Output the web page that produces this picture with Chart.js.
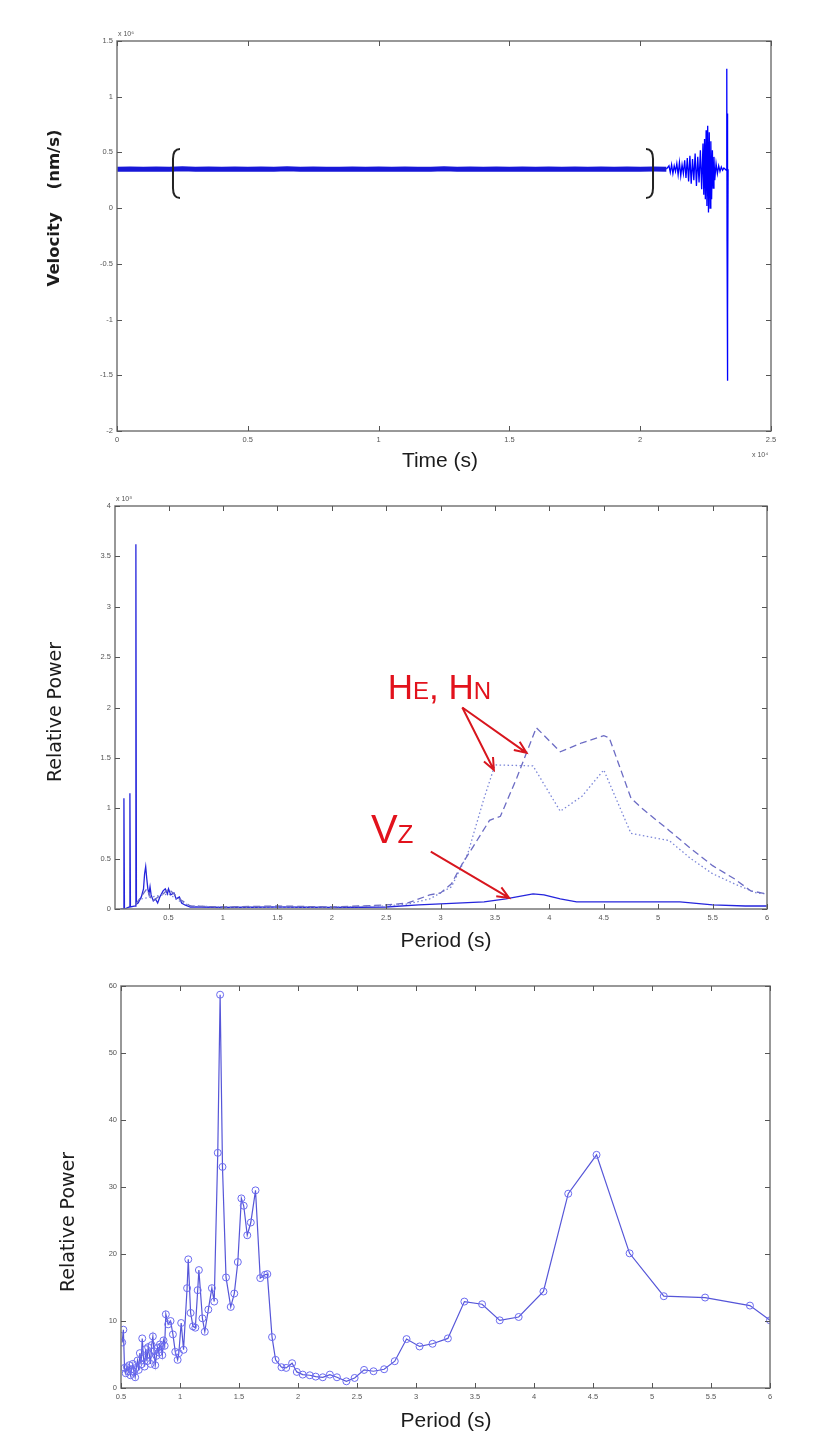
<!DOCTYPE html>
<html>
<head>
<meta charset="utf-8">
<script src="https://cdn.jsdelivr.net/npm/chart.js@4.4.1/dist/chart.umd.min.js"></script>
<style>
html, body { margin: 0; padding: 0; background: #fff; }
body { width: 838px; height: 1435px; position: relative; overflow: hidden; }
canvas { position: absolute; left: 0; }
</style>
</head>
<body>
<canvas id="velocityChart" width="838" height="480" style="top:0px"></canvas>
<canvas id="spectrumChart" width="838" height="480" style="top:480px"></canvas>
<canvas id="hvChart" width="838" height="475" style="top:960px"></canvas>
<script>
// ---- top: velocity record (time x 10^4 s, velocity x 10^6 nm/s)
const quietTime = [0, 0.05, 0.1, 0.15, 0.2, 0.25, 0.3, 0.35, 0.4, 0.45, 0.5, 0.55, 0.6, 0.65, 0.7, 0.75, 0.8, 0.85, 0.9, 0.95,
    1, 1.05, 1.1, 1.15, 1.2, 1.25, 1.3, 1.35, 1.4, 1.45, 1.5, 1.55, 1.6, 1.65, 1.7, 1.75, 1.8, 1.85, 1.9, 1.95, 2, 2.05, 2.1]
const quietVel = [0.350, 0.352, 0.348, 0.351, 0.349, 0.353, 0.348, 0.351, 0.350, 0.352, 0.349, 0.351, 0.349, 0.353, 0.348,
    0.351, 0.350, 0.349, 0.352, 0.348, 0.351, 0.350, 0.352, 0.348, 0.350, 0.353, 0.349, 0.351, 0.349, 0.352, 0.348, 0.351,
    0.350, 0.352, 0.349, 0.351, 0.349, 0.352, 0.348, 0.352, 0.350, 0.351, 0.350]
const eventTime = [2.10, 2.11, 2.115, 2.12, 2.125, 2.13, 2.135, 2.14, 2.145, 2.15, 2.155, 2.16, 2.165, 2.17, 2.175, 2.18,
    2.185, 2.19, 2.195, 2.20, 2.205, 2.21, 2.215, 2.22, 2.225, 2.23, 2.235, 2.24, 2.243, 2.246, 2.249, 2.252, 2.255, 2.258,
    2.261, 2.264, 2.267, 2.27, 2.273, 2.276, 2.279, 2.282, 2.285, 2.29, 2.295, 2.30, 2.305, 2.31, 2.315, 2.32, 2.325, 2.329,
    2.331, 2.332, 2.333, 2.334, 2.335, 2.336]
const eventVel = [0.35, 0.38, 0.32, 0.39, 0.31, 0.38, 0.33, 0.40, 0.30, 0.41, 0.29, 0.39, 0.31, 0.43, 0.27, 0.45, 0.24, 0.47,
    0.22, 0.44, 0.25, 0.49, 0.20, 0.46, 0.23, 0.52, 0.17, 0.58, 0.12, 0.62, 0.08, 0.70, 0.02, 0.74, -0.04, 0.68, 0.00, 0.60,
    0.08, 0.52, 0.18, 0.46, 0.25, 0.40, 0.31, 0.38, 0.33, 0.37, 0.34, 0.36, 0.35, 0.34, 1.25, -0.30, 0.85, -1.55, -0.95, 0.35]
const timeTicks = [0, 0.5, 1, 1.5, 2, 2.5]
const velTicks = [-2, -1.5, -1, -0.5, 0, 0.5, 1, 1.5]
const windowTimes = [0.214, 2.049]      // brackets around the analysed window
const windowVel = [0.09, 0.53]

// ---- middle: spectra of the three components (power x 10^8)
const vzPeriod = [0.06, 0.085, 0.09, 0.095, 0.14, 0.145, 0.15, 0.195, 0.2, 0.205, 0.22, 0.25, 0.27, 0.28, 0.29, 0.3, 0.31,
    0.32, 0.33, 0.34, 0.36, 0.38, 0.4, 0.42, 0.45, 0.47, 0.49, 0.5, 0.52, 0.55, 0.57, 0.6, 0.62, 0.65, 0.7, 0.8, 1.0, 1.5,
    2.0, 2.5, 2.8, 3.0, 3.2, 3.4, 3.6, 3.75, 3.85, 3.95, 4.1, 4.25, 4.5, 5.0, 5.2, 5.5, 5.8, 6.0]
const vzPower = [0.0, 0.0, 1.1, 0.0, 0.02, 1.15, 0.02, 0.03, 3.62, 0.05, 0.06, 0.12, 0.2, 0.35, 0.42, 0.3, 0.2, 0.15, 0.22,
    0.14, 0.08, 0.1, 0.06, 0.12, 0.18, 0.2, 0.15, 0.2, 0.14, 0.16, 0.1, 0.12, 0.06, 0.04, 0.02, 0.02, 0.015, 0.02, 0.015,
    0.02, 0.04, 0.05, 0.06, 0.07, 0.1, 0.13, 0.15, 0.14, 0.1, 0.07, 0.07, 0.07, 0.07, 0.04, 0.03, 0.03]
const hePeriod = [0.2, 0.3, 0.35, 0.45, 0.5, 0.6, 0.7, 1.0, 1.5, 2.0, 2.5, 2.7, 2.9, 3.0, 3.1, 3.2, 3.3, 3.45, 3.55, 3.7,
    3.88, 4.1, 4.3, 4.5, 4.55, 4.75, 4.85, 5.1, 5.3, 5.5, 5.7, 5.85, 6.0]
const hePower = [0.05, 0.2, 0.08, 0.15, 0.2, 0.1, 0.03, 0.02, 0.03, 0.02, 0.04, 0.06, 0.14, 0.16, 0.25, 0.45, 0.62, 0.88,
    0.92, 1.3, 1.8, 1.56, 1.65, 1.72, 1.7, 1.1, 1.0, 0.78, 0.6, 0.43, 0.3, 0.18, 0.15]
const hnPeriod = [0.25, 0.5, 0.6, 0.7, 1.0, 2.0, 2.5, 2.7, 2.9, 3.1, 3.25, 3.4, 3.5, 3.85, 4.1, 4.3, 4.5, 4.75, 5.1, 5.3,
    5.5, 5.7, 5.9, 6.0]
const hnPower = [0.1, 0.15, 0.08, 0.03, 0.02, 0.02, 0.03, 0.05, 0.1, 0.22, 0.55, 1.1, 1.43, 1.42, 0.97, 1.12, 1.38, 0.75,
    0.68, 0.5, 0.35, 0.25, 0.16, 0.15]
const periodTicks = [0.5, 1, 1.5, 2, 2.5, 3, 3.5, 4, 4.5, 5, 5.5, 6]
const spectrumTicks = [0, 0.5, 1, 1.5, 2, 2.5, 3, 3.5, 4]

// ---- bottom: H/V ratio
const hvPeriod = [0.51, 0.52, 0.53, 0.54, 0.55, 0.56, 0.57, 0.58, 0.59, 0.60, 0.61, 0.62, 0.63, 0.64, 0.65, 0.66, 0.67,
    0.68, 0.69, 0.70, 0.71, 0.72, 0.73, 0.74, 0.75, 0.76, 0.77, 0.78, 0.79, 0.80, 0.81, 0.82, 0.83, 0.84, 0.85, 0.86, 0.87,
    0.88, 0.90, 0.92, 0.94, 0.96, 0.98, 0.99, 1.01, 1.03, 1.06, 1.07, 1.09, 1.11, 1.13, 1.15, 1.16, 1.19, 1.21, 1.24, 1.27,
    1.29, 1.32, 1.34, 1.36, 1.39, 1.43, 1.46, 1.49, 1.52, 1.54, 1.57, 1.60, 1.64, 1.68, 1.72, 1.74, 1.78, 1.81, 1.86, 1.90,
    1.95, 1.99, 2.04, 2.10, 2.15, 2.21, 2.27, 2.33, 2.41, 2.48, 2.56, 2.64, 2.73, 2.82, 2.92, 3.03, 3.14, 3.27, 3.41, 3.56,
    3.71, 3.87, 4.08, 4.29, 4.53, 4.81, 5.10, 5.45, 5.83, 6.00]
const hvPower = [6.8, 8.7, 3.0, 2.2, 3.1, 2.5, 3.4, 1.9, 2.8, 3.6, 2.4, 1.6, 3.0, 4.1, 2.7, 5.2, 3.5, 7.4, 4.6, 3.2, 5.8,
    4.0, 6.1, 5.0, 3.6, 6.4, 7.7, 5.5, 3.4, 4.8, 6.0, 5.3, 6.5, 6.2, 4.9, 7.1, 6.3, 11.0, 9.5, 10.0, 8.0, 5.4, 4.2, 5.2, 9.7,
    5.7, 14.9, 19.2, 11.2, 9.2, 9.0, 14.6, 17.6, 10.4, 8.4, 11.7, 14.9, 12.9, 35.1, 58.7, 33.0, 16.5, 12.1, 14.1, 18.8, 28.3,
    27.2, 22.8, 24.7, 29.5, 16.4, 16.9, 17.0, 7.6, 4.2, 3.1, 3.0, 3.7, 2.4, 2.0, 1.9, 1.7, 1.6, 2.0, 1.6, 1.0, 1.5, 2.7, 2.5,
    2.8, 4.0, 7.3, 6.2, 6.6, 7.4, 12.9, 12.5, 10.1, 10.6, 14.4, 29.0, 34.8, 20.1, 13.7, 13.5, 12.3, 10.1]
const hvTicks = [0, 10, 20, 30, 40, 50, 60]

const pairs = (xs, ys) => xs.map((v, i) => ({x: v, y: ys[i]}))

// MATLAB-like box, inward ticks and axis titles
const frame = {
    id: 'frame',
    afterDraw(chart, args, o) {
        const ctx = chart.ctx
        const a = chart.chartArea
        const xs = chart.scales.x
        const ys = chart.scales.y
        ctx.save()
        ctx.strokeStyle = '#777'
        ctx.lineWidth = 1.5
        ctx.strokeRect(a.left, a.top, a.right - a.left, a.bottom - a.top)
        ctx.lineWidth = 1
        ctx.strokeStyle = '#555'
        ctx.beginPath()
        xs.ticks.forEach(t => {
            const px = Math.round(xs.getPixelForValue(t.value)) + 0.5
            ctx.moveTo(px, a.bottom); ctx.lineTo(px, a.bottom - 5)
            ctx.moveTo(px, a.top); ctx.lineTo(px, a.top + 5)
        })
        ys.ticks.forEach(t => {
            const py = Math.round(ys.getPixelForValue(t.value)) + 0.5
            ctx.moveTo(a.left, py); ctx.lineTo(a.left + 5, py)
            ctx.moveTo(a.right, py); ctx.lineTo(a.right - 5, py)
        })
        ctx.stroke()

        ctx.fillStyle = '#1c1c1c'
        ctx.textAlign = 'center'
        ctx.textBaseline = 'middle'
        ctx.font = o.xFont
        ctx.fillText(o.xTitle, o.xTitleX, o.xTitleY)
        ctx.save()
        ctx.translate(o.yTitleX, o.yTitleY)
        ctx.rotate(-Math.PI / 2)
        ctx.font = o.yFont
        ctx.fillText(o.yTitle, 0, 0)
        ctx.restore()

        ctx.fillStyle = '#555'
        ctx.textAlign = 'left'
        ctx.font = '7px "Liberation Sans"'
        if (o.yExp) ctx.fillText(o.yExp, a.left + 1, a.top - 7)
        if (o.xExp) ctx.fillText(o.xExp, a.right - 19, a.bottom + 24)
        ctx.restore()
    }
}

function axis(min, max, tickValues, isX) {
    return {
        type: 'linear',
        min: min,
        max: max,
        afterBuildTicks: s => { s.ticks = tickValues.map(v => ({value: v})) },
        afterFit: s => { if (isX) s.height = 14; else s.width = 26 },
        grid: {display: false, drawTicks: false},
        border: {display: false},
        ticks: {
            font: {size: 7.5, family: '"Liberation Sans"'},
            color: '#555',
            padding: 4,
            maxRotation: 0,
            autoSkip: false,
            callback: v => String(v)
        }
    }
}

// ---------- chart 1
const bracketMarks = {
    id: 'bracketMarks',
    afterDatasetsDraw(chart) {
        const ctx = chart.ctx
        const x = chart.scales.x, y = chart.scales.y
        const top = y.getPixelForValue(windowVel[1]), bot = y.getPixelForValue(windowVel[0])
        ctx.save()
        ctx.strokeStyle = '#222'
        ctx.lineWidth = 2
        windowTimes.forEach((t, i) => {
            const px = x.getPixelForValue(t)
            const d = i === 0 ? 7 : -7
            ctx.beginPath()
            ctx.moveTo(px + d, top)
            ctx.quadraticCurveTo(px, top, px, top + 10)
            ctx.lineTo(px, bot - 10)
            ctx.quadraticCurveTo(px, bot, px + d, bot)
            ctx.stroke()
        })
        ctx.restore()
    }
}

const ctx1 = document.querySelector('#velocityChart').getContext('2d')
const velocityChart = new Chart(ctx1, {
    type: 'line',
    data: {
        datasets: [
            {data: pairs(quietTime, quietVel), borderColor: '#1818d8', borderWidth: 5, pointRadius: 0, tension: 0},
            {data: pairs(eventTime, eventVel), borderColor: '#0000ff', borderWidth: 1.3, pointRadius: 0, tension: 0}
        ]
    },
    options: {
        responsive: false,
        animation: false,
        layout: {padding: {left: 91, right: 67, top: 41, bottom: 35}},
        scales: {x: axis(0, 2.5, timeTicks, true), y: axis(-2, 1.5, velTicks, false)},
        plugins: {
            legend: {display: false},
            tooltip: {enabled: false},
            frame: {
                xTitle: 'Time (s)', xFont: '21px "Liberation Sans"', xTitleX: 440, xTitleY: 461,
                yTitle: 'Velocity    (nm/s)', yFont: 'bold 16.5px "DejaVu Sans"', yTitleX: 55, yTitleY: 208,
                yExp: 'x 10⁶', xExp: 'x 10⁴'
            }
        }
    },
    plugins: [frame, bracketMarks]
})

// ---------- chart 2
const notes = {
    hLabel: {x: 2.515, y: 2.08},
    vLabel: {x: 2.36, y: 0.655},
    hArrowFrom: {x: 3.2, y: 2.0},
    hArrowTo: [{x: 3.49, y: 1.38}, {x: 3.79, y: 1.55}],
    vArrowFrom: {x: 2.91, y: 0.57},
    vArrowTo: {x: 3.63, y: 0.11}
}

function drawParts(ctx, parts, x, y) {
    parts.forEach(p => {
        ctx.font = p[1] + 'px "Liberation Sans"'
        ctx.fillText(p[0], x, y)
        x += ctx.measureText(p[0]).width
    })
}

function arrow(ctx, x0, y0, x1, y1) {
    const ang = Math.atan2(y1 - y0, x1 - x0)
    ctx.beginPath()
    ctx.moveTo(x0, y0)
    ctx.lineTo(x1, y1)
    ctx.moveTo(x1 - 13 * Math.cos(ang - 0.4), y1 - 13 * Math.sin(ang - 0.4))
    ctx.lineTo(x1, y1)
    ctx.lineTo(x1 - 13 * Math.cos(ang + 0.4), y1 - 13 * Math.sin(ang + 0.4))
    ctx.stroke()
}

const spectrumNotes = {
    id: 'spectrumNotes',
    afterDraw(chart) {
        const ctx = chart.ctx
        const x = chart.scales.x, y = chart.scales.y
        const px = p => [x.getPixelForValue(p.x), y.getPixelForValue(p.y)]
        ctx.save()
        ctx.fillStyle = '#e2121c'
        ctx.strokeStyle = '#d8161e'
        ctx.lineWidth = 2
        ctx.textAlign = 'left'
        ctx.textBaseline = 'alphabetic'
        const h = px(notes.hLabel)
        drawParts(ctx, [['H', 35], ['E', 24], [', H', 35], ['N', 24]], h[0], h[1])
        const v = px(notes.vLabel)
        drawParts(ctx, [['V', 40], ['Z', 26]], v[0], v[1])
        const hf = px(notes.hArrowFrom)
        notes.hArrowTo.forEach(t => { const e = px(t); arrow(ctx, hf[0], hf[1], e[0], e[1]) })
        const vf = px(notes.vArrowFrom), ve = px(notes.vArrowTo)
        arrow(ctx, vf[0], vf[1], ve[0], ve[1])
        ctx.restore()
    }
}

const ctx2 = document.querySelector('#spectrumChart').getContext('2d')
const spectrumChart = new Chart(ctx2, {
    type: 'line',
    data: {
        datasets: [
            {data: pairs(hePeriod, hePower), borderColor: '#6c6cc4', borderWidth: 1.3, borderDash: [7, 4], pointRadius: 0, tension: 0},
            {data: pairs(hnPeriod, hnPower), borderColor: '#7b86d8', borderWidth: 1.3, borderDash: [1.5, 2.5], pointRadius: 0, tension: 0},
            {data: pairs(vzPeriod, vzPower), borderColor: '#2525dc', borderWidth: 1.3, pointRadius: 0, tension: 0}
        ]
    },
    options: {
        responsive: false,
        animation: false,
        layout: {padding: {left: 89, right: 71, top: 26, bottom: 37}},
        scales: {x: axis(0.008, 6, periodTicks, true), y: axis(0, 4, spectrumTicks, false)},
        plugins: {
            legend: {display: false},
            tooltip: {enabled: false},
            frame: {
                xTitle: 'Period (s)', xFont: '21px "Liberation Sans"', xTitleX: 446, xTitleY: 461,
                yTitle: 'Relative Power', yFont: '19px "DejaVu Sans"', yTitleX: 56, yTitleY: 232,
                yExp: 'x 10⁸'
            }
        }
    },
    plugins: [frame, spectrumNotes]
})

// ---------- chart 3
const ctx3 = document.querySelector('#hvChart').getContext('2d')
const hvChart = new Chart(ctx3, {
    type: 'line',
    data: {
        datasets: [{
            data: pairs(hvPeriod, hvPower),
            borderColor: '#5656d8',
            borderWidth: 1.2,
            tension: 0,
            pointStyle: 'circle',
            pointRadius: 3.5,
            pointBorderWidth: 1,
            pointBorderColor: '#6b6bf0',
            pointBackgroundColor: 'rgba(0,0,0,0)'
        }]
    },
    options: {
        responsive: false,
        animation: false,
        layout: {padding: {left: 95, right: 68, top: 26, bottom: 33}},
        scales: {x: axis(0.5, 6, periodTicks, true), y: axis(0, 60, hvTicks, false)},
        plugins: {
            legend: {display: false},
            tooltip: {enabled: false},
            frame: {
                xTitle: 'Period (s)', xFont: '21px "Liberation Sans"', xTitleX: 446, xTitleY: 461,
                yTitle: 'Relative Power', yFont: '19px "DejaVu Sans"', yTitleX: 69, yTitleY: 262
            }
        }
    },
    plugins: [frame]
})
</script>
</body>
</html>
